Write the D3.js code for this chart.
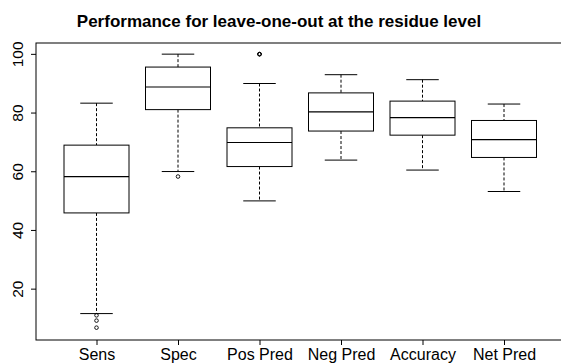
<!DOCTYPE html>
<html><head><meta charset="utf-8">
<script src="https://cdn.jsdelivr.net/npm/d3@7"></script>
<style>body{margin:0;background:#fff}svg{display:block}text{font-family:"Liberation Sans",Arial,sans-serif}</style>
</head><body><svg id="c" width="561" height="364"></svg>
<script>
const categories = ["Sens","Spec","Pos Pred","Neg Pred","Accuracy","Net Pred"];
const whiskerLow  = [11.5, 59.9, 49.9, 63.8, 60.4, 53.1];
const q1          = [45.8, 81.0, 61.6, 73.7, 72.3, 64.7];
const median      = [58.2, 88.7, 69.8, 80.2, 78.3, 70.8];
const q3          = [68.9, 95.5, 74.8, 86.7, 83.9, 77.3];
const whiskerHigh = [83.2, 99.9, 89.9, 92.9, 91.2, 82.9];
const outliers    = [[10.9, 9.1, 6.7], [58.2], [99.9, 99.9, 99.9], [], [], []];
const yTicks = [20, 40, 60, 80, 100];
const title = "Performance for leave-one-out at the residue level";

const svg = d3.select("#c");
const L = 36, R = 562, T = 43, B = 340;
const y = d3.scaleLinear().domain([2.5, 103.7]).range([B, T]);
const x = d3.scalePoint().domain(categories).range([96.5, 504]);
const bw = 65;

svg.append("text").attr("x", 279).attr("y", 27).attr("text-anchor","middle")
  .attr("font-size", 17).attr("font-weight","bold").text(title);

svg.append("rect").attr("x", L).attr("y", T).attr("width", R-L).attr("height", B-T)
  .attr("fill","none").attr("stroke","#000").attr("stroke-width",1);

const ya = svg.append("g").attr("transform",`translate(${L},0)`)
  .call(d3.axisLeft(y).tickValues(yTicks).tickSize(5).tickSizeOuter(0));
ya.select(".domain").remove();
ya.selectAll("text").attr("font-size",15.5).attr("font-family","Liberation Sans, Arial, sans-serif")
  .attr("transform", "rotate(-90)").attr("x", 0).attr("y", -13).attr("dy","0")
  .attr("text-anchor","middle").attr("fill","#000");
ya.selectAll("line").attr("stroke","#000");

const xa = svg.append("g").attr("transform",`translate(0,${B})`)
  .call(d3.axisBottom(x).tickSize(5).tickSizeOuter(0));
xa.select(".domain").remove();
xa.selectAll("text").attr("font-size",16).attr("font-family","Liberation Sans, Arial, sans-serif")
  .attr("y", 9).attr("dy","0.71em").attr("fill","#000");
xa.selectAll("line").attr("stroke","#000");

categories.forEach((c, i) => {
  const cx = x(c);
  const g = svg.append("g").attr("stroke","#000").attr("fill","none").attr("stroke-width",1);
  g.append("line").attr("x1",cx).attr("x2",cx).attr("y1",y(whiskerHigh[i])).attr("y2",y(q3[i])).attr("stroke-dasharray","3,2");
  g.append("line").attr("x1",cx).attr("x2",cx).attr("y1",y(q1[i])).attr("y2",y(whiskerLow[i])).attr("stroke-dasharray","3,2");
  g.append("line").attr("x1",cx-bw/4).attr("x2",cx+bw/4).attr("y1",y(whiskerHigh[i])).attr("y2",y(whiskerHigh[i]));
  g.append("line").attr("x1",cx-bw/4).attr("x2",cx+bw/4).attr("y1",y(whiskerLow[i])).attr("y2",y(whiskerLow[i]));
  g.append("rect").attr("x",cx-bw/2).attr("width",bw).attr("y",y(q3[i])).attr("height",y(q1[i])-y(q3[i])).attr("fill","#fff");
  g.append("line").attr("x1",cx-bw/2).attr("x2",cx+bw/2).attr("y1",y(median[i])).attr("y2",y(median[i])).attr("stroke-width",1.2);
  outliers[i].forEach(v => {
    g.append("circle").attr("cx",cx).attr("cy",y(v)).attr("r",1.8).attr("stroke-width",0.9);
  });
});
</script></body></html>
